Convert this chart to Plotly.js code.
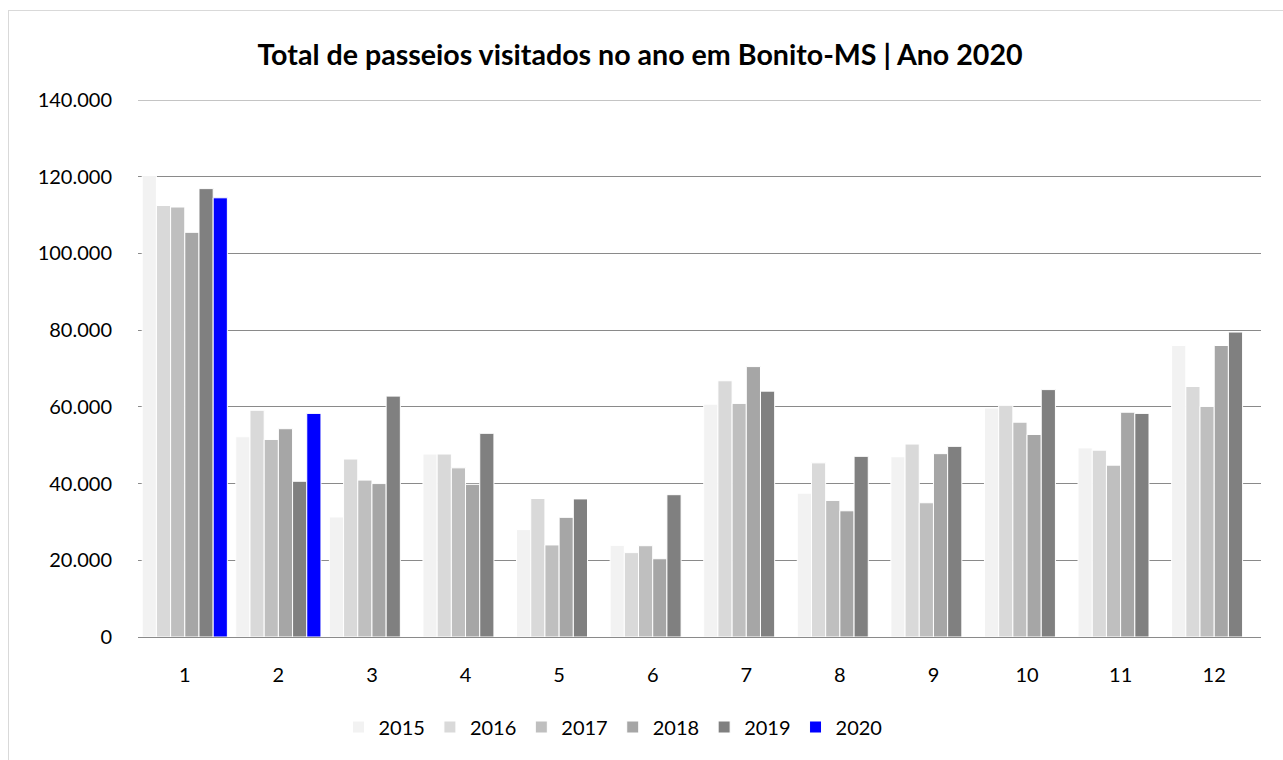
<!DOCTYPE html>
<html>
<head>
<meta charset="utf-8">
<script src="https://cdn.plot.ly/plotly-3.0.1.min.js"></script>
<style>
  html, body { margin: 0; padding: 0; background: #ffffff; }
  #frame { position: absolute; left: 8px; top: 10px; width: 1300px; height: 800px; border: 1px solid #d9d9d9; box-sizing: border-box; pointer-events: none; }
  #chart { position: absolute; left: 0; top: 0; width: 1283px; height: 760px; }
</style>
</head>
<body>
<div id="chart"></div>
<div id="frame"></div>
<script>
const months = ['1','2','3','4','5','6','7','8','9','10','11','12'];
const years = ['2015','2016','2017','2018','2019','2020'];
const v2015 = [120300, 52200, 31300, 47700, 28000, 23900, 60700, 37500, 47000, 59700, 49300, 76000];
const v2016 = [112500, 59100, 46400, 47700, 36100, 22000, 66800, 45400, 50300, 60400, 48700, 65300];
const v2017 = [112100, 51500, 40900, 44100, 24000, 23800, 60900, 35600, 35000, 56000, 44800, 60100];
const v2018 = [105500, 54300, 40000, 39800, 31200, 20400, 70500, 32900, 47800, 52800, 58600, 76000];
const v2019 = [116900, 40600, 62800, 53100, 36000, 37100, 64100, 47100, 49700, 64500, 58300, 79500];
const v2020 = [114500, 58300];
const colors = ['#f2f2f2', '#d9d9d9', '#bfbfbf', '#a6a6a6', '#808080', '#0000ff'];
const series = [v2015, v2016, v2017, v2018, v2019, v2020];
const yTicks = [0, 20000, 40000, 60000, 80000, 100000, 120000, 140000];

const traces = series.map((vals, i) => ({
  type: 'bar',
  name: years[i],
  x: months.slice(0, vals.length),
  y: vals,
  marker: { color: colors[i], line: { color: '#ffffff', width: 1 } },
  hoverinfo: 'x+y+name'
}));

const font = 'Lato, "Open Sans", "Liberation Sans", sans-serif';
const gridColor = '#8a8a8a';

const layout = {
  width: 1283,
  height: 760,
  margin: { l: 138, r: 22, t: 100, b: 123 },
  paper_bgcolor: 'rgba(0,0,0,0)',
  plot_bgcolor: '#ffffff',
  separators: ',.',
  font: { family: font, size: 20, color: '#000000' },
  title: {
    text: '<b>Total de passeios visitados no ano em Bonito-MS | Ano 2020</b>',
    font: { family: font, size: 28.6, color: '#000000' },
    x: 640 / 1283, xref: 'container', xanchor: 'center',
    y: 1 - 55 / 760, yref: 'container', yanchor: 'middle'
  },
  barmode: 'group',
  bargap: 0.09,
  bargroupgap: 0,
  xaxis: {
    type: 'category',
    showgrid: false,
    showline: true,
    linecolor: gridColor,
    linewidth: 1,
    ticks: '',
    ticklabelstandoff: 20,
    tickfont: { family: font, size: 20, color: '#000000' }
  },
  yaxis: {
    range: [0, 140000],
    tickvals: yTicks,
    tickformat: ',d',
    showgrid: true,
    gridcolor: gridColor,
    gridwidth: 1,
    zeroline: false,
    showline: false,
    ticks: '',
    ticklabelstandoff: 25,
    tickfont: { family: font, size: 20, color: '#000000' }
  },
  shapes: [{
    type: 'line', xref: 'paper', yref: 'y',
    x0: 0, x1: 1, y0: yTicks[yTicks.length - 1], y1: yTicks[yTicks.length - 1],
    line: { color: gridColor, width: 1.2 }
  }],
  showlegend: true,
  legend: {
    orientation: 'h',
    x: (613 - 138) / 1123,
    xanchor: 'center',
    y: (637 - 727) / 537,
    yanchor: 'middle',
    font: { family: font, size: 20, color: '#000000' },
    itemwidth: 30,
    traceorder: 'normal'
  }
};

Plotly.newPlot('chart', traces, layout, { displayModeBar: false, staticPlot: true });
</script>
</body>
</html>
